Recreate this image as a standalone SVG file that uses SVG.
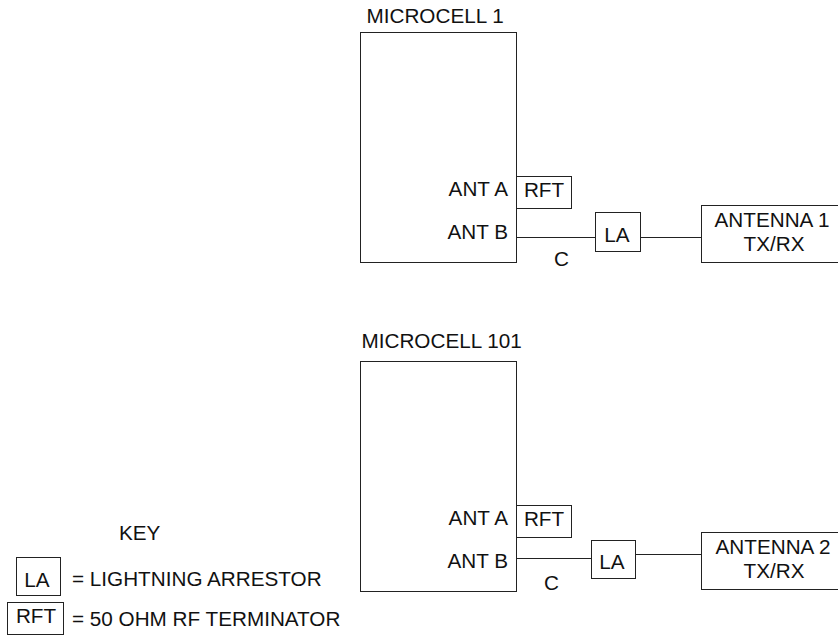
<svg xmlns="http://www.w3.org/2000/svg" width="838" height="638" viewBox="0 0 838 638">
<style>
rect{fill:#fff;stroke:#222;stroke-width:1}
line{stroke:#222;stroke-width:1}
text{font-family:"Liberation Sans",Arial,sans-serif;font-size:20.700px;fill:#111}
.m{text-anchor:middle}
.e{text-anchor:end}
</style>
<rect width="838" height="638" style="stroke:none"/>
<g id="connectors">
<line x1="516" y1="237.500" x2="596" y2="237.500"/>
<line x1="640" y1="237.500" x2="701" y2="237.500"/>
<line x1="516" y1="558.500" x2="591" y2="558.500"/>
<line x1="636" y1="554.500" x2="701" y2="554.500"/>
</g>
<g id="microcell1"><rect x="360.500" y="32.500" width="156" height="230"/><text x="366.500" y="22.500">MICROCELL 1</text><text class="e" x="508" y="196">ANT A</text><text class="e" x="508" y="239">ANT B</text></g>
<g id="rft1"><rect x="516.500" y="176.500" width="55" height="32"/><text class="m" x="544" y="197">RFT</text></g>
<g id="la1"><rect x="595.500" y="212.500" width="45" height="39"/><text class="m" x="617" y="242">LA</text></g>
<g id="antenna1"><rect x="701.500" y="205.500" width="140" height="57"/><text class="m" x="772" y="227">ANTENNA 1</text><text class="m" x="774" y="251">TX/RX</text></g>
<text id="c1" x="554" y="266">C</text>
<g id="microcell101"><rect x="360.500" y="361.500" width="156" height="230"/><text x="361.500" y="348">MICROCELL 101</text><text class="e" x="508" y="525">ANT A</text><text class="e" x="508" y="568">ANT B</text></g>
<g id="rft2"><rect x="516.500" y="505.500" width="55" height="32"/><text class="m" x="544" y="526">RFT</text></g>
<g id="la2"><rect x="591.500" y="540.500" width="44" height="38"/><text class="m" x="612" y="569">LA</text></g>
<g id="antenna2"><rect x="701.500" y="532.500" width="140" height="57"/><text class="m" x="773" y="554">ANTENNA 2</text><text class="m" x="774" y="578">TX/RX</text></g>
<text id="c2" x="544" y="590">C</text>
<g id="key"><text x="119" y="540">KEY</text>
<rect x="16.500" y="557.500" width="44" height="38"/><text class="m" x="37" y="587">LA</text><text x="72" y="586">= LIGHTNING ARRESTOR</text>
<rect x="7.500" y="602.500" width="56" height="32"/><text class="m" x="36" y="623">RFT</text><text x="72" y="626">= 50 OHM RF TERMINATOR</text></g>
</svg>
